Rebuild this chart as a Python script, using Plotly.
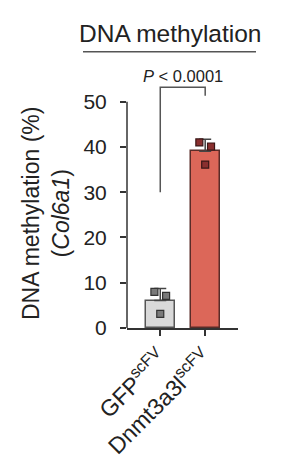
import plotly.graph_objects as go

# ---- data ----
categories = ["GFP<sup>scFV</sup>", "Dnmt3a3l<sup>scFV</sup>"]
cat_pos = [0, 1]
means = [6.07, 39.07]
sd_upper = [2.63, 2.61]
gfp_points = [8.0, 7.1, 3.1]
dnmt_points = [41.0, 40.1, 36.1]
jitter = [-0.13, 0.13, 0.0]
y_ticks = [0, 10, 20, 30, 40, 50]
y_axis_max = 50
bracket_y = [30, 53.2, 53.2, 51.3]
p_label = "<i>P</i> &lt; 0.0001"
p_label_y = 55.7

FONT = "Liberation Sans, Arial, sans-serif"
bar_fill = ["#d9d9d9", "#dc6759"]
bar_line = ["#555555", "#5a2c28"]
pt_fill = ["#7a7a7a", "#8a2f2f"]
pt_line = ["#333333", "#3a1616"]

fig = go.Figure()
fig.add_trace(go.Bar(
    x=cat_pos, y=means, width=0.64,
    marker=dict(color=bar_fill, line=dict(color=bar_line, width=1.5)),
    error_y=dict(type="data", array=sd_upper, arrayminus=[0, 0], symmetric=False,
                 color="#444444", thickness=1.5, width=6),
    showlegend=False,
))
for i, pts in enumerate([gfp_points, dnmt_points]):
    fig.add_trace(go.Scatter(
        x=[cat_pos[i] + j for j in jitter], y=pts, mode="markers",
        marker=dict(symbol="square", size=7, color=pt_fill[i],
                    line=dict(color=pt_line[i], width=1.2)),
        showlegend=False, cliponaxis=False,
    ))
fig.add_trace(go.Scatter(
    x=[cat_pos[0], cat_pos[0], cat_pos[1], cat_pos[1]], y=bracket_y,
    mode="lines", line=dict(color="#555555", width=1.5),
    showlegend=False, cliponaxis=False, hoverinfo="skip",
))

W, H = 293, 462
L, R, T, B = 127, 55, 70, 134
pw, ph = W - L - R, H - T - B

def px_x(p):
    return (p - L) / pw

def px_y(p):
    return (H - B - p) / ph

# y-axis line only up to 50
fig.add_shape(type="line", xref="paper", yref="y", x0=0, x1=0, y0=0, y1=y_axis_max,
              line=dict(color="#333333", width=1.5))

fig.add_annotation(x=0.5, y=p_label_y, xref="x", yref="y", text=p_label, showarrow=False,
                   font=dict(size=16.5, color="#222222", family=FONT), yanchor="middle")
fig.add_annotation(x=px_x(169.5), y=px_y(34), xref="paper", yref="paper",
                   text="DNA methylation", showarrow=False,
                   font=dict(size=24.5, color="#222222", family=FONT),
                   xanchor="center", yanchor="middle")
fig.add_shape(type="line", xref="paper", yref="paper",
              x0=px_x(83), x1=px_x(256), y0=px_y(51.7), y1=px_y(51.7),
              line=dict(color="#555555", width=1.5))
fig.add_annotation(x=px_x(46), y=px_y(214), xref="paper", yref="paper",
                   text="DNA methylation (%)<br>(<i>Col6a1</i>)", showarrow=False,
                   textangle=-90, font=dict(size=23, color="#222222", family=FONT),
                   xanchor="center", yanchor="middle")

fig.update_layout(
    width=W, height=H, margin=dict(l=L, r=R, t=T, b=B, autoexpand=False),
    paper_bgcolor="white", plot_bgcolor="white",
    font=dict(family=FONT, color="#222222"),
    bargap=0,
)
fig.update_xaxes(range=[-0.74, 1.73], tickvals=cat_pos, ticktext=categories,
                 tickangle=-45, tickfont=dict(size=23, family=FONT, color="#222222"),
                 showline=True, linecolor="#333333", linewidth=1.5,
                 ticks="outside", ticklen=6, tickcolor="#333333", tickwidth=1.5,
                 showgrid=False, zeroline=False, fixedrange=True, automargin=False)
fig.update_yaxes(range=[0, 57], tickvals=y_ticks,
                 tickfont=dict(size=21, family=FONT, color="#222222"),
                 showline=False,
                 ticks="outside", ticklen=6, tickcolor="#333333", tickwidth=1.5,
                 ticklabelstandoff=9,
                 showgrid=False, zeroline=False, fixedrange=True, automargin=False)

fig.write_html("out.html", config={"displayModeBar": False})
